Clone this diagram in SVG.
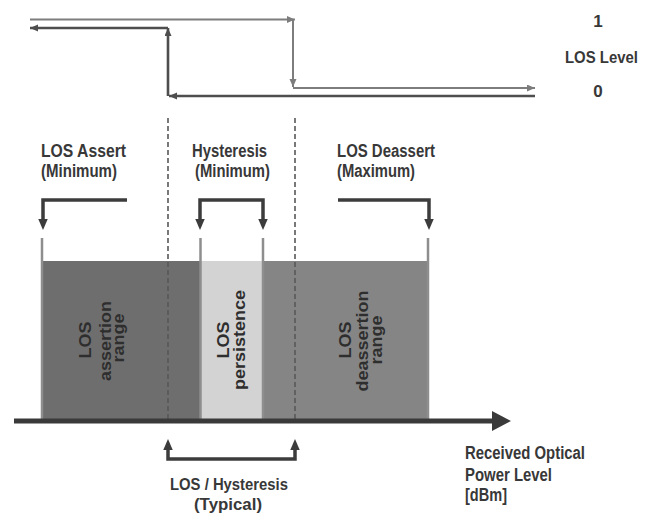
<svg xmlns="http://www.w3.org/2000/svg" width="650" height="515" viewBox="0 0 650 515">
<style>
.t{font-family:"Liberation Sans",Arial,sans-serif;font-weight:bold;font-size:18px;fill:#383838}
.s{font-size:17px}
.r{font-family:"Liberation Sans",Arial,sans-serif;font-weight:bold;font-size:18px;fill:#2e2e2e;text-anchor:middle}
.l1{fill:none;stroke:#7d7d7d;stroke-width:2}
.l2{fill:none;stroke:#4e4e4e;stroke-width:2.6}
.br{fill:none;stroke:#3c3c3c;stroke-width:3.5;stroke-linejoin:miter}
.dash{stroke:#585858;stroke-width:1.6;stroke-dasharray:5 3}
.edge{stroke:#8e8e8e;stroke-width:2.5}
</style>
<defs>
<marker id="a1" markerUnits="userSpaceOnUse" markerWidth="9" markerHeight="8" refX="8" refY="3.5" orient="auto"><path d="M0,0 L8,3.5 L0,7 z" fill="#7d7d7d"/></marker>
<marker id="a2" markerUnits="userSpaceOnUse" markerWidth="9" markerHeight="8" refX="8" refY="3.5" orient="auto"><path d="M0,0 L8,3.5 L0,7 z" fill="#4e4e4e"/></marker>
<marker id="big" markerUnits="userSpaceOnUse" markerWidth="12" markerHeight="10" refX="2" refY="4.75" orient="auto-start-reverse"><path d="M0,0 L11,4.75 L0,9.5 z" fill="#3c3c3c"/></marker>
</defs>

<g id="los-level-curves">
<path class="l1" d="M30,19.5 H295" marker-end="url(#a1)"/>
<path class="l1" d="M293,19.5 V87" marker-end="url(#a1)"/>
<path class="l1" d="M293,88 H535" marker-end="url(#a1)"/>
<path class="l2" d="M535,96 H169" marker-end="url(#a2)"/>
<path class="l2" d="M168,96 V28" marker-end="url(#a2)"/>
<path class="l2" d="M168,28 H30" marker-end="url(#a2)"/>
</g>

<g id="level-labels">
<text class="t s" x="598" y="27" text-anchor="middle">1</text>
<text class="t s" x="565" y="63" textLength="73" lengthAdjust="spacingAndGlyphs">LOS Level</text>
<text class="t s" x="598" y="97" text-anchor="middle">0</text>
</g>

<g id="assertion-range">
<rect x="42" y="261" width="158" height="158" fill="#6e6e6e"/>
<text class="r" transform="translate(91,340) scale(0.95,1) rotate(-90)">LOS</text>
<text class="r" transform="translate(110.5,341) scale(0.95,1) rotate(-90)">assertion</text>
<text class="r" transform="translate(124,338) scale(0.95,1) rotate(-90)">range</text>
</g>

<g id="persistence">
<rect x="200" y="261" width="63" height="158" fill="#d3d3d3"/>
<text class="r" transform="translate(229,340) scale(0.95,1) rotate(-90)">LOS</text>
<text class="r" transform="translate(245,340) scale(0.95,1) rotate(-90)">persistence</text>
</g>

<g id="deassertion-range">
<rect x="263" y="261" width="165" height="158" fill="#858585"/>
<text class="r" transform="translate(351,340) scale(0.95,1) rotate(-90)">LOS</text>
<text class="r" transform="translate(368,341) scale(0.95,1) rotate(-90)">deassertion</text>
<text class="r" transform="translate(382,340) scale(0.95,1) rotate(-90)">range</text>
</g>

<g id="guides">
<line class="edge" x1="42" y1="238" x2="42" y2="419"/>
<line class="edge" x1="200.5" y1="238" x2="200.5" y2="419"/>
<line class="edge" x1="263" y1="238" x2="263" y2="419"/>
<line class="edge" x1="428" y1="238" x2="428" y2="419"/>
<line class="dash" x1="168" y1="118" x2="168" y2="419"/>
<line class="dash" x1="295" y1="118" x2="295" y2="419"/>
</g>

<g id="connectors">
<path class="br" d="M127,200 H43 V221" marker-end="url(#big)"/>
<path class="br" d="M200,221 V200 H263 V221" marker-start="url(#big)" marker-end="url(#big)"/>
<path class="br" d="M338,200 H429 V221" marker-end="url(#big)"/>
<path class="br" d="M168,448 V459 H295 V448" marker-start="url(#big)" marker-end="url(#big)"/>
</g>

<g id="axis">
<line x1="14" y1="421" x2="494" y2="421" stroke="#3a3a3a" stroke-width="5"/>
<polygon points="492,411 511,421 492,431" fill="#3a3a3a"/>
</g>

<g id="labels">
<text class="t" x="41" y="157" textLength="85" lengthAdjust="spacingAndGlyphs">LOS Assert</text>
<text class="t" x="41" y="177" textLength="76" lengthAdjust="spacingAndGlyphs">(Minimum)</text>
<text class="t" x="192" y="157" textLength="75" lengthAdjust="spacingAndGlyphs">Hysteresis</text>
<text class="t" x="195" y="177" textLength="75" lengthAdjust="spacingAndGlyphs">(Minimum)</text>
<text class="t" x="337" y="157" textLength="98" lengthAdjust="spacingAndGlyphs">LOS Deassert</text>
<text class="t" x="337" y="177" textLength="78" lengthAdjust="spacingAndGlyphs">(Maximum)</text>
<text class="t s" x="170" y="490" textLength="118" lengthAdjust="spacingAndGlyphs">LOS / Hysteresis</text>
<text class="t s" x="194" y="510" textLength="68" lengthAdjust="spacingAndGlyphs">(Typical)</text>
<text class="t" x="465" y="459" textLength="120" lengthAdjust="spacingAndGlyphs">Received Optical</text>
<text class="t" x="465" y="481" textLength="87" lengthAdjust="spacingAndGlyphs">Power Level</text>
<text class="t" x="465" y="501" textLength="42" lengthAdjust="spacingAndGlyphs">[dBm]</text>
</g>
</svg>
